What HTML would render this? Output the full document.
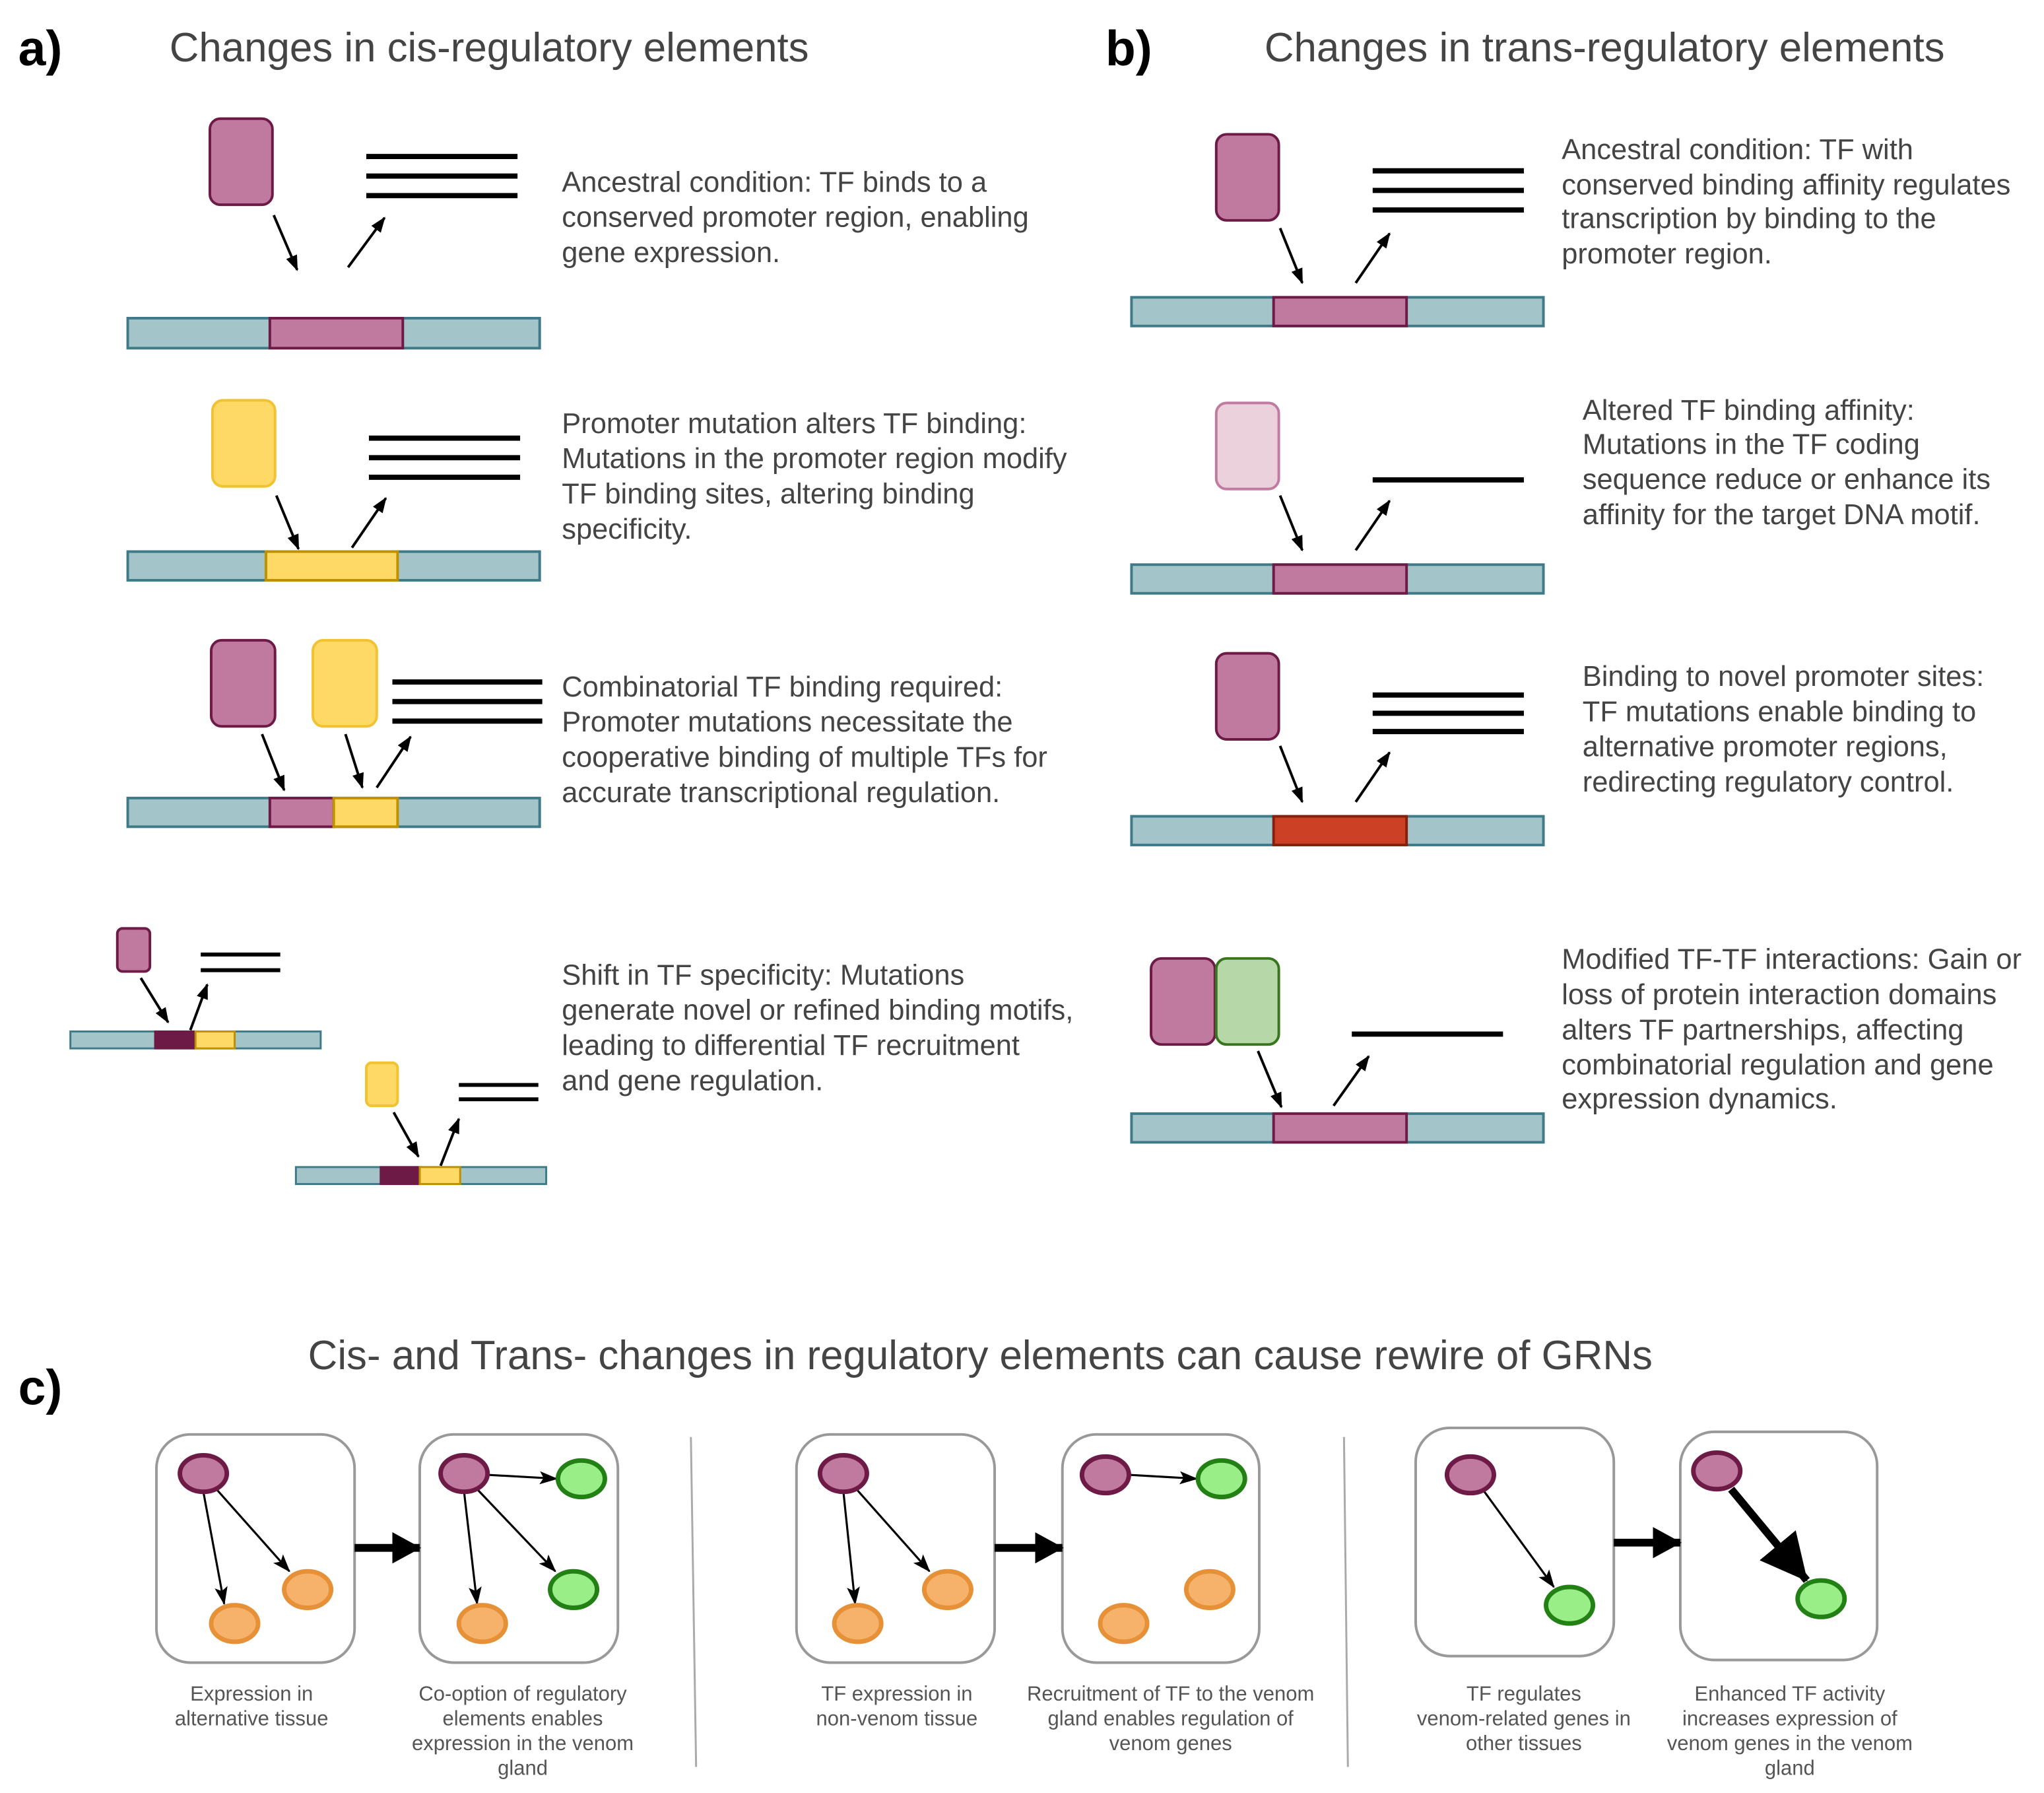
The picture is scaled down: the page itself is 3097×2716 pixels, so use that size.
<!DOCTYPE html>
<html><head><meta charset="utf-8"><style>
html,body{margin:0;padding:0;background:#fff}
svg{display:block}
text{font-family:"Liberation Sans",Arial,sans-serif}
.t{font-size:22px;fill:#444}
.h{font-size:31.3px;fill:#444}
.c{font-size:15.7px;fill:#555;text-anchor:middle}
.lab{font-size:38px;font-weight:bold;fill:#000}
.dna{fill:#A3C4C8;stroke:#3E7A88;stroke-width:2}
.pk{fill:#C07A9F;stroke:#6E1A46;stroke-width:2}
.yl{fill:#FFD966;stroke:#F1C232;stroke-width:2}
.ylp{fill:#FFD966;stroke:#BF9000;stroke-width:2}
.ln{stroke:#000;stroke-width:4}
.ar{stroke:#000;stroke-width:2;marker-end:url(#ah)}
.box{fill:#fff;stroke:#999;stroke-width:2}
.np{fill:#C07A9F;stroke:#6E1A46;stroke-width:3.5}
.no{fill:#F6B26B;stroke:#E69138;stroke-width:3.5}
.ng{fill:#99EE88;stroke:#238015;stroke-width:3.5}
.ga{stroke:#000;stroke-width:1.6;marker-end:url(#ah2)}
</style></head><body>
<svg width="3097" height="2716" viewBox="0 0 1568 1375" preserveAspectRatio="none" xmlns="http://www.w3.org/2000/svg">
<defs>
<marker id="ah" markerUnits="userSpaceOnUse" markerWidth="12" markerHeight="12" refX="11" refY="6" orient="auto"><path d="M0,1.5 L12,6 L0,10.5 Z" fill="#000"/></marker>
<marker id="ah2" markerUnits="userSpaceOnUse" markerWidth="14" markerHeight="12" refX="13" refY="6" orient="auto"><path d="M0,1 L14,6 L0,11 L3,6 Z" fill="#000"/></marker>
<marker id="big" markerUnits="userSpaceOnUse" markerWidth="22" markerHeight="24" refX="21" refY="12" orient="auto"><path d="M0,0 L22,12 L0,24 Z" fill="#000"/></marker>
<marker id="big2" markerUnits="userSpaceOnUse" markerWidth="36" markerHeight="36" refX="35" refY="18" orient="auto"><path d="M0,0 L36,18 L0,36 Z" fill="#000"/></marker>
</defs>

<!-- panel a -->
<text x="14" y="50" class="lab">a)</text>
<text x="130" y="47" class="h">Changes in cis-regulatory elements</text>

<rect x="161" y="91" width="48" height="66" rx="8" class="pk"/>
<line x1="281" y1="120" x2="397" y2="120" class="ln"/><line x1="281" y1="135" x2="397" y2="135" class="ln"/><line x1="281" y1="150" x2="397" y2="150" class="ln"/>
<line x1="210" y1="165" x2="228" y2="207" class="ar"/><line x1="267" y1="205" x2="295" y2="167" class="ar"/>
<rect x="98" y="244" width="316" height="23" class="dna"/><rect x="207" y="244" width="102" height="23" class="pk"/>
<text class="t"><tspan x="431" y="147">Ancestral condition: TF binds to a</tspan><tspan x="431" y="174">conserved promoter region, enabling</tspan><tspan x="431" y="201">gene expression.</tspan></text>

<rect x="163" y="307" width="48" height="66" rx="8" class="yl"/>
<line x1="283" y1="336" x2="399" y2="336" class="ln"/><line x1="283" y1="351" x2="399" y2="351" class="ln"/><line x1="283" y1="366" x2="399" y2="366" class="ln"/>
<line x1="212" y1="380" x2="229" y2="421" class="ar"/><line x1="270" y1="420" x2="296" y2="382" class="ar"/>
<rect x="98" y="423" width="316" height="22" class="dna"/><rect x="204" y="423" width="101" height="22" class="ylp"/>
<text class="t"><tspan x="431" y="332">Promoter mutation alters TF binding:</tspan><tspan x="431" y="359">Mutations in the promoter region modify</tspan><tspan x="431" y="386">TF binding sites, altering binding</tspan><tspan x="431" y="413">specificity.</tspan></text>

<rect x="162" y="491" width="49" height="66" rx="8" class="pk"/>
<rect x="240" y="491" width="49" height="66" rx="8" class="yl"/>
<line x1="301" y1="523" x2="416" y2="523" class="ln"/><line x1="301" y1="538" x2="416" y2="538" class="ln"/><line x1="301" y1="553" x2="416" y2="553" class="ln"/>
<line x1="201" y1="563" x2="218" y2="606" class="ar"/><line x1="265" y1="563" x2="278" y2="604" class="ar"/><line x1="289" y1="604" x2="315" y2="565" class="ar"/>
<rect x="98" y="612" width="316" height="22" class="dna"/><rect x="207" y="612" width="49" height="22" class="pk"/><rect x="256" y="612" width="49" height="22" class="ylp"/>
<text class="t"><tspan x="431" y="534">Combinatorial TF binding required:</tspan><tspan x="431" y="561">Promoter mutations necessitate the</tspan><tspan x="431" y="588">cooperative binding of multiple TFs for</tspan><tspan x="431" y="615">accurate transcriptional regulation.</tspan></text>

<rect x="90" y="712" width="25" height="33" rx="4" class="pk"/>
<line x1="154" y1="732" x2="215" y2="732" class="ln" style="stroke-width:3"/><line x1="154" y1="744" x2="215" y2="744" class="ln" style="stroke-width:3"/>
<line x1="108" y1="750" x2="129" y2="784" class="ar"/><line x1="146" y1="790" x2="159" y2="755" class="ar"/>
<rect x="54" y="791" width="192" height="13" class="dna" style="stroke-width:1.5"/><rect x="119" y="791" width="31" height="13" fill="#6E1A46" stroke="#6E1A46" stroke-width="1.5"/><rect x="150" y="791" width="30" height="13" class="ylp" style="stroke-width:1.5"/>
<rect x="281" y="815" width="24" height="33" rx="4" class="yl"/>
<line x1="352" y1="832" x2="413" y2="832" class="ln" style="stroke-width:3"/><line x1="352" y1="843" x2="413" y2="843" class="ln" style="stroke-width:3"/>
<line x1="302" y1="853" x2="321" y2="887" class="ar"/><line x1="338" y1="894" x2="352" y2="858" class="ar"/>
<rect x="227" y="895" width="192" height="13" class="dna" style="stroke-width:1.5"/><rect x="292" y="895" width="30" height="13" fill="#6E1A46" stroke="#6E1A46" stroke-width="1.5"/><rect x="322" y="895" width="31" height="13" class="ylp" style="stroke-width:1.5"/>
<text class="t"><tspan x="431" y="755">Shift in TF specificity: Mutations</tspan><tspan x="431" y="782">generate novel or refined binding motifs,</tspan><tspan x="431" y="809">leading to differential TF recruitment</tspan><tspan x="431" y="836">and gene regulation.</tspan></text>

<!-- panel b -->
<text x="848" y="50" class="lab">b)</text>
<text x="970" y="47" class="h">Changes in trans-regulatory elements</text>

<rect x="933" y="103" width="48" height="66" rx="8" class="pk"/>
<line x1="1053" y1="131" x2="1169" y2="131" class="ln"/><line x1="1053" y1="146" x2="1169" y2="146" class="ln"/><line x1="1053" y1="161" x2="1169" y2="161" class="ln"/>
<line x1="982" y1="175" x2="999" y2="217" class="ar"/><line x1="1040" y1="217" x2="1066" y2="179" class="ar"/>
<rect x="868" y="228" width="316" height="22" class="dna"/><rect x="977" y="228" width="102" height="22" class="pk"/>
<text class="t"><tspan x="1198" y="122">Ancestral condition: TF with</tspan><tspan x="1198" y="149">conserved binding affinity regulates</tspan><tspan x="1198" y="175">transcription by binding to the</tspan><tspan x="1198" y="202">promoter region.</tspan></text>

<rect x="933" y="309" width="48" height="66" rx="8" fill="#EAD1DC" stroke="#C27BA0" stroke-width="2"/>
<line x1="1053" y1="368" x2="1169" y2="368" class="ln"/>
<line x1="982" y1="380" x2="999" y2="422" class="ar"/><line x1="1040" y1="422" x2="1066" y2="384" class="ar"/>
<rect x="868" y="433" width="316" height="22" class="dna"/><rect x="977" y="433" width="102" height="22" class="pk"/>
<text class="t"><tspan x="1214" y="322">Altered TF binding affinity:</tspan><tspan x="1214" y="348">Mutations in the TF coding</tspan><tspan x="1214" y="375">sequence reduce or enhance its</tspan><tspan x="1214" y="402">affinity for the target DNA motif.</tspan></text>

<rect x="933" y="501" width="48" height="66" rx="8" class="pk"/>
<line x1="1053" y1="533" x2="1169" y2="533" class="ln"/><line x1="1053" y1="547" x2="1169" y2="547" class="ln"/><line x1="1053" y1="561" x2="1169" y2="561" class="ln"/>
<line x1="982" y1="572" x2="999" y2="615" class="ar"/><line x1="1040" y1="615" x2="1066" y2="577" class="ar"/>
<rect x="868" y="626" width="316" height="22" class="dna"/><rect x="977" y="626" width="102" height="22" fill="#CC4125" stroke="#85200C" stroke-width="2"/>
<text class="t"><tspan x="1214" y="526">Binding to novel promoter sites:</tspan><tspan x="1214" y="553">TF mutations enable binding to</tspan><tspan x="1214" y="580">alternative promoter regions,</tspan><tspan x="1214" y="607">redirecting regulatory control.</tspan></text>

<rect x="883" y="735" width="49" height="66" rx="8" class="pk"/>
<rect x="933" y="735" width="48" height="66" rx="8" fill="#B6D7A8" stroke="#38761D" stroke-width="2"/>
<line x1="1037" y1="793" x2="1153" y2="793" class="ln"/>
<line x1="965" y1="806" x2="983" y2="849" class="ar"/><line x1="1023" y1="848" x2="1050" y2="810" class="ar"/>
<rect x="868" y="854" width="316" height="22" class="dna"/><rect x="977" y="854" width="102" height="22" class="pk"/>
<text class="t"><tspan x="1198" y="743">Modified TF-TF interactions: Gain or</tspan><tspan x="1198" y="770">loss of protein interaction domains</tspan><tspan x="1198" y="797">alters TF partnerships, affecting</tspan><tspan x="1198" y="824">combinatorial regulation and gene</tspan><tspan x="1198" y="850">expression dynamics.</tspan></text>

<!-- panel c -->
<text x="14" y="1077" class="lab">c)</text>
<text x="752" y="1050" class="h" text-anchor="middle">Cis- and Trans- changes in regulatory elements can cause rewire of GRNs</text>

<line x1="530" y1="1102" x2="534" y2="1355" stroke="#aaa" stroke-width="1.5"/>
<line x1="1031" y1="1102" x2="1034" y2="1355" stroke="#aaa" stroke-width="1.5"/>

<rect x="120" y="1100" width="152" height="175" rx="26" class="box"/>
<rect x="322" y="1100" width="152" height="175" rx="26" class="box"/>
<rect x="611" y="1100" width="152" height="175" rx="26" class="box"/>
<rect x="815" y="1100" width="151" height="175" rx="26" class="box"/>
<rect x="1086" y="1095" width="152" height="175" rx="26" class="box"/>
<rect x="1289" y="1098" width="151" height="175" rx="26" class="box"/>

<line x1="272" y1="1187" x2="322" y2="1187" stroke="#000" stroke-width="6" marker-end="url(#big)"/>
<line x1="763" y1="1187" x2="815" y2="1187" stroke="#000" stroke-width="6" marker-end="url(#big)"/>
<line x1="1238" y1="1183" x2="1289" y2="1183" stroke="#000" stroke-width="6" marker-end="url(#big)"/>

<line x1="156" y1="1144" x2="172" y2="1230" class="ga"/><line x1="166" y1="1142" x2="222" y2="1205" class="ga"/>
<ellipse cx="156" cy="1130" rx="18" ry="14" class="np"/><ellipse cx="236" cy="1219" rx="18" ry="14" class="no"/><ellipse cx="180" cy="1245" rx="18" ry="14" class="no"/>
<line x1="374" y1="1131" x2="427" y2="1134" class="ga"/><line x1="356" y1="1144" x2="366" y2="1230" class="ga"/><line x1="366" y1="1142" x2="426" y2="1205" class="ga"/>
<ellipse cx="356" cy="1130" rx="18" ry="14" class="np"/><ellipse cx="446" cy="1134" rx="18" ry="14" class="ng"/><ellipse cx="440" cy="1219" rx="18" ry="14" class="ng"/><ellipse cx="370" cy="1245" rx="18" ry="14" class="no"/>
<line x1="647" y1="1144" x2="656" y2="1230" class="ga"/><line x1="657" y1="1142" x2="713" y2="1205" class="ga"/>
<ellipse cx="647" cy="1130" rx="18" ry="14" class="np"/><ellipse cx="727" cy="1219" rx="18" ry="14" class="no"/><ellipse cx="658" cy="1245" rx="18" ry="14" class="no"/>
<line x1="866" y1="1131" x2="918" y2="1134" class="ga"/>
<ellipse cx="848" cy="1131" rx="18" ry="14" class="np"/><ellipse cx="937" cy="1134" rx="18" ry="14" class="ng"/><ellipse cx="928" cy="1219" rx="18" ry="14" class="no"/><ellipse cx="862" cy="1245" rx="18" ry="14" class="no"/>
<line x1="1138" y1="1143" x2="1192" y2="1217" class="ga"/>
<ellipse cx="1128" cy="1131" rx="18" ry="14" class="np"/><ellipse cx="1204" cy="1231" rx="18" ry="14" class="ng"/>
<line x1="1328" y1="1142" x2="1386" y2="1212" stroke="#000" stroke-width="6" marker-end="url(#big2)"/>
<ellipse cx="1317" cy="1128" rx="18" ry="14" class="np"/><ellipse cx="1397" cy="1226" rx="18" ry="14" class="ng"/>

<text class="c"><tspan x="193" y="1304">Expression in</tspan><tspan x="193" y="1323">alternative tissue</tspan></text>
<text class="c"><tspan x="401" y="1304">Co-option of regulatory</tspan><tspan x="401" y="1323">elements enables</tspan><tspan x="401" y="1342">expression in the venom</tspan><tspan x="401" y="1361">gland</tspan></text>
<text class="c"><tspan x="688" y="1304">TF expression in</tspan><tspan x="688" y="1323">non-venom tissue</tspan></text>
<text class="c"><tspan x="898" y="1304">Recruitment of TF to the venom</tspan><tspan x="898" y="1323">gland enables regulation of</tspan><tspan x="898" y="1342">venom genes</tspan></text>
<text class="c"><tspan x="1169" y="1304">TF regulates</tspan><tspan x="1169" y="1323">venom-related genes in</tspan><tspan x="1169" y="1342">other tissues</tspan></text>
<text class="c"><tspan x="1373" y="1304">Enhanced TF activity</tspan><tspan x="1373" y="1323">increases expression of</tspan><tspan x="1373" y="1342">venom genes in the venom</tspan><tspan x="1373" y="1361">gland</tspan></text>
</svg>
</body></html>
